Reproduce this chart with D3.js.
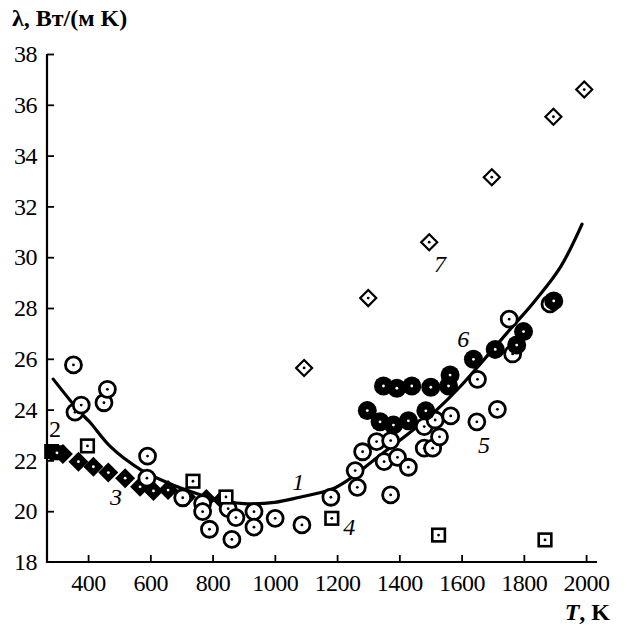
<!DOCTYPE html>
<html><head><meta charset="utf-8">
<script src="https://cdn.jsdelivr.net/npm/d3@7"></script>
<style>html,body{margin:0;padding:0;background:#fff;}svg{display:block;}
svg text{font-family:'Liberation Serif','Times New Roman',serif;}</style>
</head><body>
<svg id="c" width="627" height="627"></svg>
<script>
// ---- data ----
const xTicks = [400, 600, 800, 1000, 1200, 1400, 1600, 1800, 2000];
const yTicks = [18, 20, 22, 24, 26, 28, 30, 32, 34, 36, 38];
// curve 1 (fit)
const curve1T = [288, 374, 406, 471, 567, 650, 700, 800, 900, 1000, 1080, 1180, 1232, 1338, 1444, 1521, 1595, 1660, 1766, 1830, 1917, 1987];
const curve1V = [25.2, 23.9, 23.5, 22.55, 21.65, 21.15, 20.9, 20.5, 20.3, 20.35, 20.55, 20.85, 21.2, 22.2, 23.2, 24.0, 24.9, 25.8, 27.3, 28.2, 29.6, 31.3];
// series 2: filled squares
const s2T = [283, 300];
const s2V = [22.35, 22.3];
// series 3: filled diamonds
const s3T = [319, 369, 417, 465, 519, 567, 610, 657, 715, 780, 830];
const s3V = [22.25, 21.95, 21.75, 21.52, 21.3, 20.96, 20.8, 20.83, 20.56, 20.48, 20.45];
// series 4: open squares
const s4T = [398, 737, 843, 1183, 1526, 1868];
const s4V = [22.57, 21.18, 20.56, 19.72, 19.06, 18.87];
// series 5: open circles
const s5T = [353, 358, 378, 451, 462, 589, 591, 704, 768, 768, 790, 850, 862, 875, 933, 933, 1001, 1087, 1180, 1258, 1265, 1282, 1327, 1351, 1372, 1372, 1394, 1429, 1480, 1480, 1507, 1515, 1529, 1565, 1649, 1651, 1715, 1753, 1764, 1884];
const s5V = [25.76, 23.9, 24.18, 24.27, 24.8, 21.3, 22.17, 20.53, 20.3, 19.98, 19.29, 20.1, 18.89, 19.75, 19.98, 19.37, 19.72, 19.46, 20.55, 21.6, 20.94, 22.34, 22.74, 21.95, 22.78, 20.64, 22.12, 21.73, 23.33, 22.48, 22.48, 23.59, 22.93, 23.75, 23.52, 25.19, 24.01, 27.56, 26.19, 28.16];
// series 6: filled circles
const s6T = [1297, 1338, 1381, 1429, 1485, 1349, 1392, 1440, 1501, 1558, 1563, 1638, 1708, 1777, 1799, 1896];
const s6V = [23.96, 23.52, 23.39, 23.56, 23.95, 24.93, 24.84, 24.93, 24.88, 24.93, 25.36, 25.98, 26.37, 26.54, 27.07, 28.28];
// series 7: open diamonds
const s7T = [1094, 1300, 1496, 1697, 1895, 1994];
const s7V = [25.64, 28.39, 30.59, 33.15, 35.53, 36.6];
// curve labels
const labTxt = ["1", "2", "3", "4", "5", "6", "7"];
const labT = [1075, 294, 490, 1239, 1672, 1605, 1531];
const labV = [20.83, 22.92, 20.24, 19.06, 22.29, 26.46, 29.42];

// ---- chart ----
const svg = d3.select("#c");
svg.append("rect").attr("width", 627).attr("height", 627).attr("fill", "#fff");
const x = d3.scaleLinear().domain([268, 2035]).range([47, 597]);
const y = d3.scaleLinear().domain([18, 38]).range([562, 54]);
const font = "'Liberation Serif','Times New Roman',serif";

// axes
const gx = svg.append("g").attr("transform", `translate(0,${y(18)})`)
  .call(d3.axisBottom(x).tickValues(xTicks).tickSize(-7).tickPadding(12).tickFormat(d3.format("d")));
const gy = svg.append("g").attr("transform", `translate(${x(268)},0)`)
  .call(d3.axisLeft(y).tickValues(yTicks).tickSize(-7).tickPadding(10).tickFormat(d3.format("d")));
[gx, gy].forEach(g => {
  g.attr("font-family", font);
  g.select(".domain").attr("stroke", "#000").attr("stroke-width", 2.2);
  g.selectAll(".tick line").attr("stroke", "#000").attr("stroke-width", 1.8);
  g.selectAll(".tick text").style("font-family", font).attr("font-size", 24).attr("fill", "#000").attr("letter-spacing", -0.5);
});
gy.selectAll(".tick").filter(d => d === 18).select("line").remove();
gy.select(".domain").attr("d", `M0,${y(38)}V${y(18) + 1}`);
gx.select(".domain").attr("d", `M${x(268)},0H${x(2035)}`);

// curve
const pts = curve1T.map((t, i) => [t, curve1V[i]]);
svg.append("path").datum(pts)
  .attr("d", d3.line().x(d => x(d[0])).y(d => y(d[1])).curve(d3.curveCatmullRom.alpha(0.5)))
  .attr("fill", "none").attr("stroke", "#000").attr("stroke-width", 3.2).attr("stroke-linecap", "round");

const g = svg.append("g");
function dot(cx, cy) {
  g.append("circle").attr("cx", cx).attr("cy", cy).attr("r", 1.4).attr("fill", "#000");
}
function wdot(cx, cy) {
  g.append("circle").attr("cx", cx).attr("cy", cy).attr("r", 1.4).attr("fill", "#fff");
}
// series 3 filled diamonds
s3T.forEach((t, i) => {
  const cx = x(t), cy = y(s3V[i]), h = 10;
  g.append("path").attr("d", `M${cx},${cy - h}L${cx + h},${cy}L${cx},${cy + h}L${cx - h},${cy}Z`).attr("fill", "#000");
  wdot(cx, cy);
});
// series 2 filled squares
s2T.forEach((t, i) => {
  const cx = x(t), cy = y(s2V[i]), h = 7.5;
  g.append("rect").attr("x", cx - h).attr("y", cy - h).attr("width", 2 * h).attr("height", 2 * h).attr("fill", "#000");
  wdot(cx, cy);
});
// series 5 open circles
s5T.forEach((t, i) => {
  const cx = x(t), cy = y(s5V[i]);
  g.append("circle").attr("cx", cx).attr("cy", cy).attr("r", 8).attr("fill", "#fff").attr("stroke", "#000").attr("stroke-width", 2.8);
  dot(cx, cy);
});
// series 6 filled circles
s6T.forEach((t, i) => {
  const cx = x(t), cy = y(s6V[i]);
  g.append("circle").attr("cx", cx).attr("cy", cy).attr("r", 9.5).attr("fill", "#000");
  wdot(cx, cy);
});
// series 4 open squares
s4T.forEach((t, i) => {
  const cx = x(t), cy = y(s4V[i]), h = 6.3;
  g.append("rect").attr("x", cx - h).attr("y", cy - h).attr("width", 2 * h).attr("height", 2 * h)
    .attr("fill", "#fff").attr("stroke", "#000").attr("stroke-width", 2.6);
  dot(cx, cy);
});
// series 7 open diamonds
s7T.forEach((t, i) => {
  const cx = x(t), cy = y(s7V[i]), h = 8;
  g.append("path").attr("d", `M${cx},${cy - h}L${cx + h},${cy}L${cx},${cy + h}L${cx - h},${cy}Z`)
    .attr("fill", "#fff").attr("stroke", "#000").attr("stroke-width", 2.2);
  dot(cx, cy);
});

// labels
labTxt.forEach((s, i) => {
  svg.append("text").attr("x", x(labT[i])).attr("y", y(labV[i])).attr("text-anchor", "middle")
    .attr("font-family", font).attr("font-size", 24).attr("font-style", i === 1 ? "normal" : "italic").text(s);
});
svg.append("text").attr("x", 12).attr("y", 26).attr("font-family", font).attr("font-size", 24).attr("font-weight", "bold").text("λ, Вт/(м K)");
const xl = svg.append("text").attr("x", 610).attr("y", 620).attr("text-anchor", "end").attr("font-family", font).attr("font-size", 24).attr("font-weight", "bold");
xl.append("tspan").attr("font-style", "italic").text("T");
xl.append("tspan").text(", K");
</script>
</body></html>
